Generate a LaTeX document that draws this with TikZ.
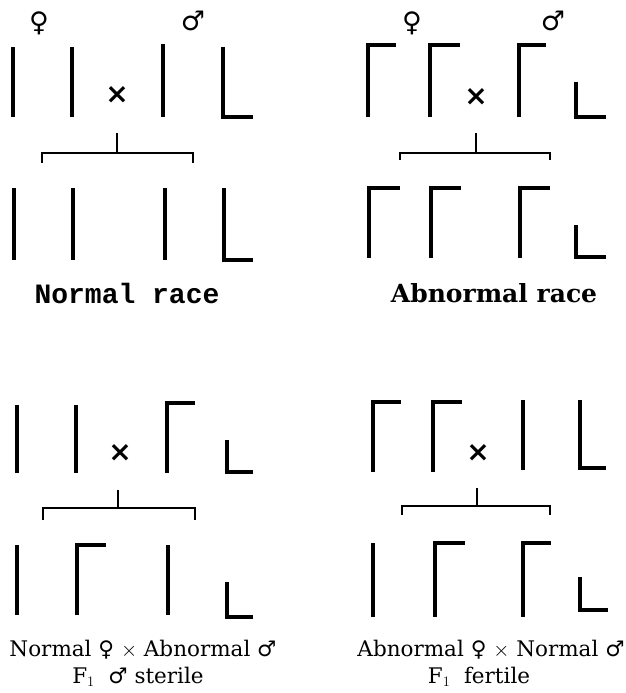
\documentclass[tikz,border=0pt]{standalone}
\usepackage{fontspec}
\setmainfont{DejaVu Serif}
\newfontfamily\symfont{DejaVu Sans}
\newfontfamily\typefont{Liberation Mono}

\begin{document}
\begin{tikzpicture}[
  x=1pt, y=-1pt,
  chrom/.style={line width=3.6pt},
  bracket/.style={line width=2.4pt},
  sex/.style={font=\symfont\bfseries\fontsize{27}{27}\selectfont, inner sep=0pt},
  cross/.style={font=\symfont\bfseries\fontsize{28}{28}\selectfont, inner sep=0pt},
  race/.style={font=\bfseries\fontsize{25}{25}\selectfont, inner sep=0pt},
  caption/.style={font=\fontsize{21.5}{21.5}\selectfont, inner sep=0pt}
]
\useasboundingbox (0,0) rectangle (626,693);

% normal race
\node[sex] (f1) at (39,23) {♀};
\node[sex] (m1) at (193,21) {♂};
\draw[chrom] (13,47) -- (13,117);
\draw[chrom] (72,47) -- (72,117);
\node[cross] (x1) at (117,95) {×};
\draw[chrom] (163,44) -- (163,117);
\draw[chrom] (223,47) |- (253,117);
\coordinate (t1) at (117,133);
\coordinate (j1) at (117,153);
\coordinate (l1) at (42,163);
\coordinate (r1) at (193,163);
\draw[bracket] (t1) -- (j1);
\draw[bracket] (l1) |- (j1) -| (r1);
\draw[chrom] (14,188) -- (14,260);
\draw[chrom] (73,188) -- (73,260);
\draw[chrom] (165,188) -- (165,260);
\draw[chrom] (224,188) |- (253,260);
\node[race, font=\typefont\bfseries\fontsize{28}{28}\selectfont] (n1) at (127,293) {Normal race};

% abnormal race
\node[sex] (f2) at (412,23) {♀};
\node[sex] (m2) at (553,21) {♂};
\draw[chrom] (368,117) |- (396,45);
\draw[chrom] (430,117) |- (460,45);
\node[cross] (x2) at (476,97) {×};
\draw[chrom] (519,117) |- (546,45);
\draw[chrom] (576,82) |- (606,117);
\coordinate (t2) at (476,133);
\coordinate (j2) at (476,153);
\coordinate (l2) at (400,160);
\coordinate (r2) at (550,160);
\draw[bracket] (t2) -- (j2);
\draw[bracket] (l2) |- (j2) -| (r2);
\draw[chrom] (369,258) |- (400,188);
\draw[chrom] (431,258) |- (461,188);
\draw[chrom] (520,258) |- (550,188);
\draw[chrom] (576,225) |- (606,257);
\node[race] (n2) at (494,293) {Abnormal race};

% normal female x abnormal male
\draw[chrom] (17,405) -- (17,473);
\draw[chrom] (76,405) -- (76,473);
\node[cross] (x3) at (120,453) {×};
\draw[chrom] (167,473) |- (195,403);
\draw[chrom] (227,440) |- (253,472);
\coordinate (t3) at (118,490);
\coordinate (j3) at (118,508);
\coordinate (l3) at (43,520);
\coordinate (r3) at (195,520);
\draw[bracket] (t3) -- (j3);
\draw[bracket] (l3) |- (j3) -| (r3);
\draw[chrom] (17,545) -- (17,615);
\draw[chrom] (77,615) |- (106,545);
\draw[chrom] (168,545) -- (168,615);
\draw[chrom] (227,582) |- (253,617);
\node[caption] (c3) at (143,650) {Normal {\symfont ♀} $\times$ Abnormal {\symfont ♂}};
\node[caption] (d3) at (138,677) {F$_1$\ \ {\symfont ♂} sterile};

% abnormal female x normal male
\draw[chrom] (373,472) |- (401,402);
\draw[chrom] (433,472) |- (462,402);
\node[cross] (x4) at (478,453) {×};
\draw[chrom] (523,400) -- (523,470);
\draw[chrom] (580,400) |- (606,468);
\coordinate (t4) at (477,488);
\coordinate (j4) at (477,506);
\coordinate (l4) at (402,515);
\coordinate (r4) at (550,515);
\draw[bracket] (t4) -- (j4);
\draw[bracket] (l4) |- (j4) -| (r4);
\draw[chrom] (373,543) -- (373,617);
\draw[chrom] (435,617) |- (465,543);
\draw[chrom] (523,617) |- (551,543);
\draw[chrom] (580,577) |- (608,610);
\node[caption] (c4) at (491,650) {Abnormal {\symfont ♀} $\times$ Normal {\symfont ♂}};
\node[caption] (d4) at (479,677) {F$_1$\ \ fertile};
\end{tikzpicture}
\end{document}
